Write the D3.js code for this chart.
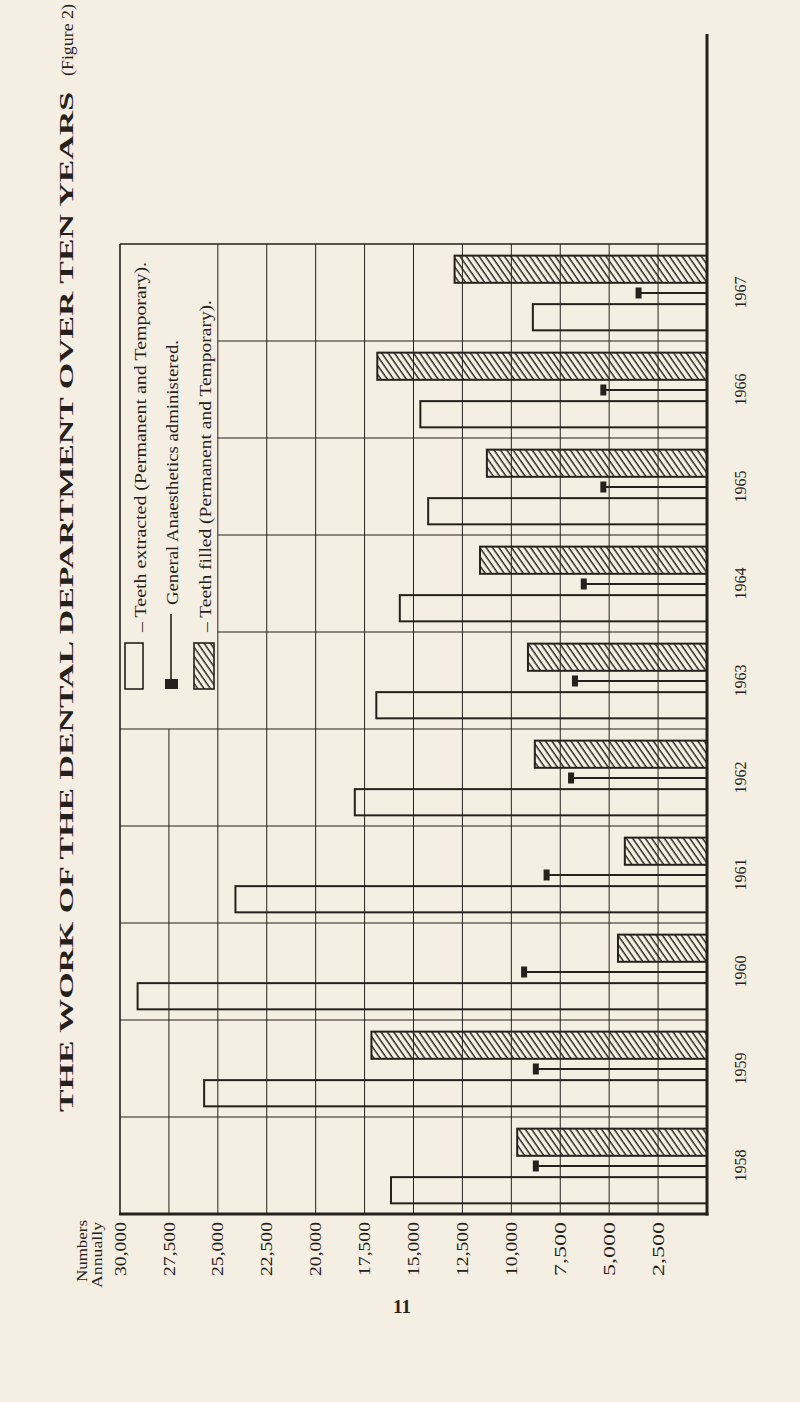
<!DOCTYPE html>
<html><head><meta charset="utf-8">
<script src="https://cdn.jsdelivr.net/npm/d3@7"></script>
<style>html,body{margin:0;padding:0;background:#f4efe2;} svg{display:block;}</style>
</head><body>
<svg id="c" width="800" height="1402"></svg>
<script>
// ---- data ----
const years = [1958, 1959, 1960, 1961, 1962, 1963, 1964, 1965, 1966, 1967];
const teethExtracted = [16150, 25700, 29100, 24100, 18000, 16900, 15700, 14250, 14650, 8900];
const anaesthetics   = [8850, 8850, 9450, 8300, 7050, 6850, 6400, 5400, 5400, 3600];
const teethFilled    = [9700, 17150, 4550, 4200, 8800, 9150, 11600, 11250, 16850, 12900];
const tickValues = [30000, 27500, 25000, 22500, 20000, 17500, 15000, 12500, 10000, 7500, 5000, 2500];
const tickLabels = ["30,000","27,500","25,000","22,500","20,000","17,500","15,000","12,500","10,000","7,500","5,000","2,500"];
const legendLabels = ["– Teeth extracted (Permanent and Temporary).", "General Anaesthetics administered.", "– Teeth filled (Permanent and Temporary)."];
const titleText = "THE WORK OF THE DENTAL DEPARTMENT OVER TEN YEARS";
const figureText = "(Figure 2)";
const axisTitle = ["Numbers", "Annually"];
const pageNumber = "11";

// ---- drawing ----
const ink = "#26211d";
const svg = d3.select("#c");
svg.append("rect").attr("width",800).attr("height",1402).attr("fill","#f4efe2");

const defs = svg.append("defs");
const pat = defs.append("pattern").attr("id","hatch").attr("patternUnits","userSpaceOnUse")
  .attr("width",5.2).attr("height",6).attr("patternTransform","rotate(-35)");
pat.append("line").attr("x1",1).attr("y1",0).attr("x2",1).attr("y2",6).attr("stroke",ink).attr("stroke-width",1.4);

const pLeft = 120, pRight = 707, pTop = 244, pBottom = 1214;
const x = d3.scaleLinear().domain([0, 30000]).range([pRight, pLeft]);
const y = d3.scaleBand().domain(years.slice().reverse()).range([pTop, pBottom]);
const bw = y.bandwidth();
const legendBottom = y(1963) + bw;
const legendRight = x(25000);

const g = svg.append("g");
// vertical gridlines
g.selectAll("line.vg").data(tickValues.filter(v => v < 30000)).enter().append("line")
  .attr("x1", d => x(d)).attr("x2", d => x(d))
  .attr("y1", d => d === 27500 ? legendBottom : pTop).attr("y2", pBottom)
  .attr("stroke", ink).attr("stroke-width", 1);
// horizontal separators
g.selectAll("line.hs").data(years.slice(0, -1)).enter().append("line")
  .attr("y1", d => y(d)).attr("y2", d => y(d))
  .attr("x1", d => y(d) < legendBottom - 1 ? legendRight : pLeft).attr("x2", pRight)
  .attr("stroke", ink).attr("stroke-width", 1.2);
// borders
g.append("line").attr("x1",pLeft).attr("x2",pRight).attr("y1",pTop).attr("y2",pTop).attr("stroke",ink).attr("stroke-width",1.3);
g.append("line").attr("x1",pLeft).attr("x2",pLeft).attr("y1",pTop).attr("y2",pBottom).attr("stroke",ink).attr("stroke-width",1.6);
g.append("line").attr("x1",pLeft-1).attr("x2",pRight+1.5).attr("y1",pBottom).attr("y2",pBottom).attr("stroke",ink).attr("stroke-width",3);
g.append("line").attr("x1",pRight).attr("x2",pRight).attr("y1",34).attr("y2",pBottom+1.5).attr("stroke",ink).attr("stroke-width",3);

// bars
const idx = d3.range(years.length);
g.selectAll("rect.filled").data(idx).enter().append("rect")
  .attr("x", i => x(teethFilled[i])).attr("width", i => x(0) - x(teethFilled[i]))
  .attr("y", i => y(years[i]) + bw*0.12).attr("height", bw*0.28)
  .attr("fill","url(#hatch)").attr("stroke",ink).attr("stroke-width",2);
g.selectAll("rect.extr").data(idx).enter().append("rect")
  .attr("x", i => x(teethExtracted[i])).attr("width", i => x(0) - x(teethExtracted[i]))
  .attr("y", i => y(years[i]) + bw*0.62).attr("height", bw*0.27)
  .attr("fill","none").attr("stroke",ink).attr("stroke-width",2);
g.selectAll("line.ga").data(idx).enter().append("line")
  .attr("x1", i => x(anaesthetics[i])).attr("x2", x(0))
  .attr("y1", i => y(years[i]) + bw*0.505).attr("y2", i => y(years[i]) + bw*0.505)
  .attr("stroke",ink).attr("stroke-width",2);
g.selectAll("rect.gam").data(idx).enter().append("rect")
  .attr("x", i => x(anaesthetics[i]) - 1).attr("width", 6)
  .attr("y", i => y(years[i]) + bw*0.505 - 5.5).attr("height", 11)
  .attr("fill",ink);

// rotated text helper
function vtext(xc, yStart, str, size, opts = {}) {
  const t = svg.append("text")
    .attr("transform", `translate(${xc + size*0.35},${yStart}) rotate(-90)`)
    .attr("font-family", "'Liberation Serif','Times New Roman',serif")
    .attr("font-size", size).attr("fill", ink)
    .attr("text-anchor", opts.anchor || "start")
    .attr("font-weight", opts.bold ? "bold" : "normal")
    .text(str);
  if (opts.len) t.attr("textLength", opts.len).attr("lengthAdjust", "spacingAndGlyphs");
  return t;
}

tickValues.forEach((v, i) => vtext(x(v), 1222, tickLabels[i], 16, {anchor: "end", len: 54}));
years.forEach(yr => vtext(740, y(yr) + bw/2, String(yr), 16, {anchor: "middle", len: 32}));
vtext(82, 1282, axisTitle[0], 15, {len: 62});
vtext(97, 1288, axisTitle[1], 15, {len: 66});
vtext(66, 1112, titleText, 19, {bold: true, len: 1020});
vtext(67, 76, figureText, 16, {len: 72});
svg.append("text").attr("x", 402).attr("y", 1313).attr("text-anchor","middle")
  .attr("font-family","'Liberation Serif',serif").attr("font-weight","bold").attr("font-size",19)
  .attr("fill", ink).text(pageNumber);

// legend symbols
const leg = svg.append("g");
leg.append("rect").attr("x",125).attr("y",643).attr("width",18).attr("height",46)
  .attr("fill","none").attr("stroke",ink).attr("stroke-width",1.6);
leg.append("line").attr("x1",171).attr("x2",171).attr("y1",614).attr("y2",688).attr("stroke",ink).attr("stroke-width",1.6);
leg.append("rect").attr("x",165).attr("y",679).attr("width",13).attr("height",10).attr("fill",ink);
leg.append("rect").attr("x",194).attr("y",643).attr("width",20).attr("height",46)
  .attr("fill","url(#hatch)").attr("stroke",ink).attr("stroke-width",1.6);
vtext(140, 632, legendLabels[0], 17, {len: 370});
vtext(172, 605, legendLabels[1], 17, {len: 265});
vtext(205, 632, legendLabels[2], 17, {len: 332});
</script>
</body></html>
